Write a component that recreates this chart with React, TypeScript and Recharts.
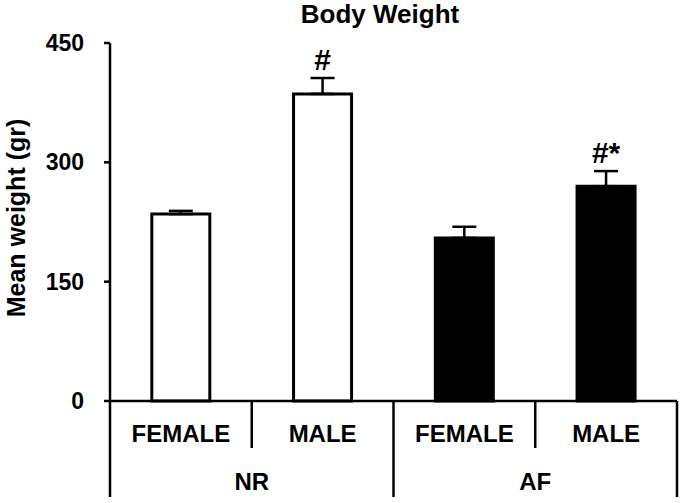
import { BarChart, Bar, XAxis, YAxis, ErrorBar, Cell, LabelList } from 'recharts';

// values (gr)
const groups = ['NR', 'NR', 'AF', 'AF'];
const sexes = ['FEMALE', 'MALE', 'FEMALE', 'MALE'];
const means = [235, 386, 205, 270];
const sems = [4, 20, 14, 19];
const marks = ['', '#', '', '#*'];
const yTicks = [0, 150, 300, 450];

const FONT = '"Liberation Sans", Arial, sans-serif';

const data = sexes.map((sex, i) => ({
  key: `${groups[i]}-${sex}`,
  sex,
  group: groups[i],
  mean: means[i],
  err: [0, sems[i]],
  sem: sems[i],
  mark: marks[i],
}));

function SexTick(props: any) {
  const { x, y, payload, index } = props;
  const half = payload.offset ?? 0;
  const row = data[index];
  const groupEnd = index % 2 === 1;
  return (
    <g>
      {index === 0 && (
        <line x1={x - half} y1={y} x2={x - half} y2={y + 96} stroke="#000" strokeWidth={2.5} />
      )}
      <line
        x1={x + half} y1={y}
        x2={x + half} y2={groupEnd ? y + 96 : y + 47}
        stroke="#000" strokeWidth={2.5}
      />
      <text
        x={x} y={y + 41} textAnchor="middle"
        fontFamily={FONT} fontWeight="bold" fontSize={24} fill="#000"
      >
        {row.sex}
      </text>
      {groupEnd && (
        <text
          x={x - half} y={y + 89} textAnchor="middle"
          fontFamily={FONT} fontWeight="bold" fontSize={24} fill="#000"
        >
          {row.group}
        </text>
      )}
    </g>
  );
}

function YLabel(props: any) {
  const { viewBox } = props;
  const cy = viewBox.y + viewBox.height / 2 - 4;
  return (
    <text
      transform={`translate(25, ${cy}) rotate(-90)`}
      textAnchor="middle"
      fontFamily={FONT} fontWeight="bold" fontSize={25} fill="#000"
    >
      Mean weight (gr)
    </text>
  );
}

function MarkLabel(props: any) {
  const { x, y, width, height, value, index } = props;
  if (!value) return null;
  const row = data[index];
  const pxPerUnit = height / row.mean;
  const tip = y - row.sem * pxPerUnit;
  return (
    <text
      x={x + width / 2} y={tip - 8} textAnchor="middle"
      fontFamily={FONT} fontWeight="bold" fontSize={30} fill="#000"
    >
      {value}
    </text>
  );
}

export default function App() {
  return (
    <div style={{ position: 'absolute', left: 0, top: 0, width: 685, height: 503, background: '#fff' }}>
      <div
        style={{
          position: 'absolute', top: 1, left: 380, transform: 'translateX(-50%)',
          whiteSpace: 'nowrap', lineHeight: '26px',
          fontFamily: FONT, fontWeight: 'bold', fontSize: 26, color: '#000',
        }}
      >
        Body Weight
      </div>
      <BarChart
        width={685}
        height={503}
        data={data}
        margin={{ top: 43, right: 8, left: 0, bottom: 0 }}
        barCategoryGap="29.5%"
      >
        <XAxis
          dataKey="key"
          interval={0}
          height={102}
          tickSize={0}
          tickMargin={0}
          tickLine={false}
          axisLine={{ stroke: '#000', strokeWidth: 2.5 }}
          tick={<SexTick />}
        />
        <YAxis
          width={110}
          domain={[0, 450]}
          ticks={yTicks}
          interval={0}
          tickSize={6}
          tickMargin={20}
          axisLine={{ stroke: '#000', strokeWidth: 2.5 }}
          tickLine={{ stroke: '#000', strokeWidth: 2.5 }}
          tick={{ fill: '#000', fontSize: 23, fontWeight: 'bold', fontFamily: FONT }}
          label={<YLabel />}
        />
        <Bar dataKey="mean" isAnimationActive={false} stroke="#000" strokeWidth={3}>
          {data.map((d) => (
            <Cell key={d.key} fill={d.group === 'NR' ? '#fff' : '#000'} />
          ))}
          <ErrorBar dataKey="err" width={12} stroke="#000" strokeWidth={2.5} direction="y" />
          <LabelList dataKey="mark" content={<MarkLabel />} />
        </Bar>
      </BarChart>
    </div>
  );
}
